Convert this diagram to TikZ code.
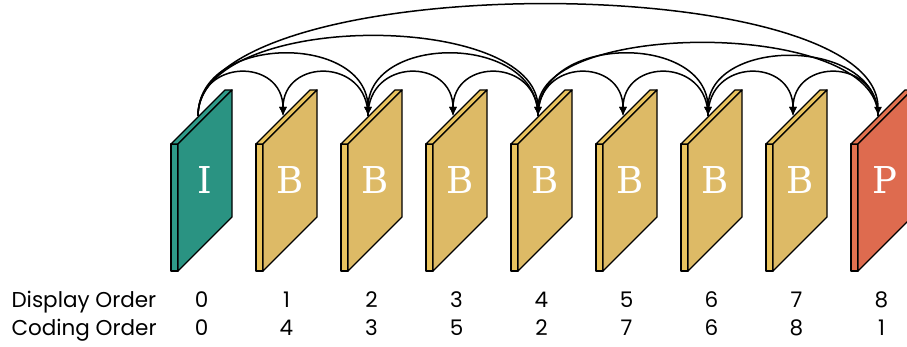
\documentclass[tikz,border=0pt]{standalone}
\usepackage{fontspec}
\setsansfont{Poppins}
\newfontfamily\typefont{DejaVu Serif}
\usepackage{xcolor}
\usetikzlibrary{arrows.meta}

\definecolor{iface}{HTML}{2A9382}
\definecolor{iside}{HTML}{2E9B89}
\definecolor{bface}{HTML}{DDBA66}
\definecolor{bside}{HTML}{E9C35E}
\definecolor{pface}{HTML}{DE6B4F}
\definecolor{pside}{HTML}{E2714F}

\begin{document}
\begin{tikzpicture}[
    x=1pt, y=1pt,
    slab/.style={draw=black, line width=1.4pt, line join=round},
    ftype/.style={text=white, font=\typefont\fontsize{37}{40}\selectfont},
    order/.style={font=\sffamily\fontsize{21.5}{24}\selectfont, anchor=base},
    ref/.style={draw=black, line width=1.5pt, -{Latex[length=9pt,width=8pt]}}
]
    \clip (0,0) rectangle (907,347);

    % Frames
    \foreach \i/\t/\fc/\sc/\d/\c in {0/I/iface/iside/0/0, 1/B/bface/bside/1/4,
        2/B/bface/bside/2/3, 3/B/bface/bside/3/5, 4/B/bface/bside/4/2,
        5/B/bface/bside/5/7, 6/B/bface/bside/6/6, 7/B/bface/bside/7/8,
        8/P/pface/pside/8/1} {
        \pgfmathsetmacro\L{171+85*\i}
        \draw[slab, fill=\sc] (\L,76) -- (\L+7,76) -- (\L+7,203) -- (\L,203) -- cycle;
        \draw[slab, fill=\sc] (\L,203) -- (\L+7,203) -- (\L+61,257) -- (\L+54,257) -- cycle;
        \draw[slab, fill=\fc] (\L+7,76) -- (\L+61,130) -- (\L+61,257) -- (\L+7,203) -- cycle;
        \node[ftype] (t\i) at (\L+34,167) {\t};
        \coordinate (f\i) at (\L+27,231);
        \node[order] (d\i) at (\L+30.5,39) {\d};
        \node[order] (c\i) at (\L+30.5,11) {\c};
    }

    % Row labels
    \node[order, anchor=base west] (disp) at (8,39) {Display Order};
    \node[order, anchor=base west] (code) at (8,11) {Coding Order};

    % References
    \foreach \s/\e/\l in {0/8/0.56, 0/4/0.80, 8/4/0.73, 0/2/1.25, 4/2/1.25,
        4/6/1.25, 8/6/1.20, 0/1/1.76, 2/1/1.76, 2/3/1.76, 4/3/1.76,
        4/5/1.76, 6/5/1.76, 6/7/1.76, 8/7/1.76}
        \draw[ref] (f\s) to[out=90, in=90, looseness=\l] (f\e);
\end{tikzpicture}
\end{document}
